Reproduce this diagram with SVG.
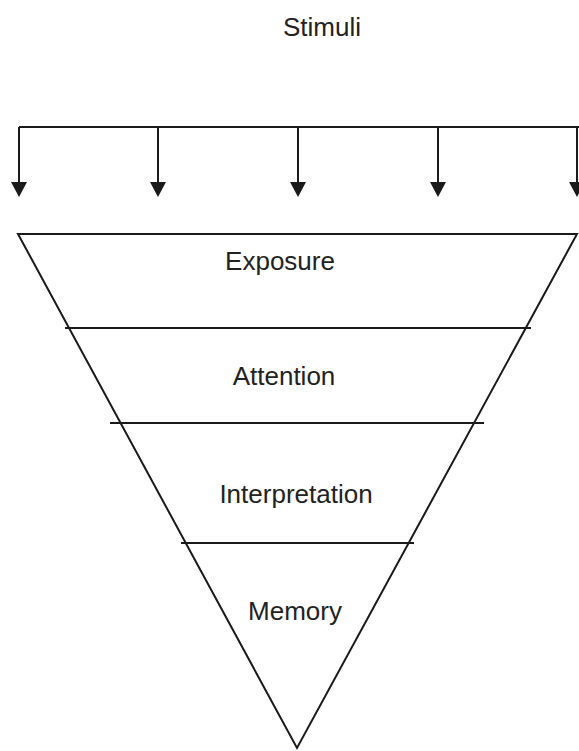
<svg xmlns="http://www.w3.org/2000/svg" width="579" height="751" viewBox="0 0 579 751">
<style>
.ln{stroke:#1a1a1a;stroke-width:2;fill:none}
.t{font-family:"Liberation Sans",Arial,sans-serif;font-size:26px;fill:#222;text-anchor:middle}
</style>
<defs>
<marker id="ah" markerWidth="8" markerHeight="8" refX="7.5" refY="4" orient="auto" markerUnits="userSpaceOnUse" viewBox="0 0 8 8">
<path d="M0,0 L8,4 L0,8 Z" fill="#1a1a1a"/>
</marker>
</defs>
<rect width="579" height="751" fill="#fff"/>
<g id="stimuli"><text class="t" x="322" y="36">Stimuli</text></g>
<g id="connectors">
<path class="ln" d="M19,127 H579"/>
<path d="M19,127 V186 M158,127 V186 M298,127 V186 M438,127 V186 M577,127 V186" class="ln"/>
<path d="M11,182 L27,182 L19,197 Z M150,182 L166,182 L158,197 Z M290,182 L306,182 L298,197 Z M430,182 L446,182 L438,197 Z M569,182 L585,182 L577,197 Z" fill="#1a1a1a"/>
</g>
<g id="funnel">
<path class="ln" d="M18,234 L577,234 L297,748 Z"/>
</g>
<g id="exposure"><text class="t" x="280" y="270">Exposure</text></g>
<g id="attention">
<path class="ln" d="M65,328 H531"/>
<text class="t" x="284" y="385">Attention</text>
</g>
<g id="interpretation">
<path class="ln" d="M110,423 H484"/>
<text class="t" x="296" y="503">Interpretation</text>
</g>
<g id="memory">
<path class="ln" d="M181,543 H414"/>
<text class="t" x="295" y="620">Memory</text>
</g>
</svg>
